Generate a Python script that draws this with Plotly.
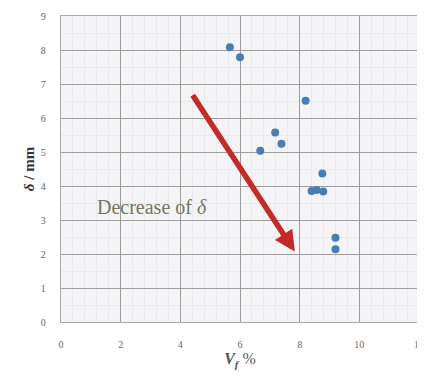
import plotly.graph_objects as go

vf = [5.66, 6.0, 8.2, 7.18, 7.39, 6.68, 8.76, 8.4, 8.57, 8.79, 9.2, 9.2]
delta = [8.08, 7.79, 6.51, 5.57, 5.24, 5.04, 4.37, 3.85, 3.88, 3.84, 2.48, 2.14]

x_ticks = [0, 2, 4, 6, 8, 10, 12]
y_ticks = [0, 1, 2, 3, 4, 5, 6, 7, 8, 9]

arrow_start = (4.38, 6.71)
arrow_end = (7.84, 2.07)
label_pos = (3.05, 3.38)
label_text = "Decrease of <i>δ</i>"

fig = go.Figure()
fig.add_trace(go.Scatter(
    x=vf, y=delta, mode="markers",
    marker=dict(color="#4a7db4", size=8, line=dict(width=0)),
    showlegend=False, hoverinfo="skip"))

fig.add_annotation(
    x=arrow_end[0], y=arrow_end[1], ax=arrow_start[0], ay=arrow_start[1],
    xref="x", yref="y", axref="x", ayref="y", text="",
    showarrow=True, arrowhead=2, arrowsize=0.75, arrowwidth=5.5, arrowcolor="#c42a28")

fig.add_annotation(
    x=label_pos[0], y=label_pos[1], xref="x", yref="y", text=label_text,
    showarrow=False, font=dict(family="Liberation Serif, DejaVu Serif, serif", size=20, color="#76765e"))

tickfont = dict(family="Liberation Serif, DejaVu Serif, serif", size=10, color="#666666")
fig.update_xaxes(
    range=[0, 12], tickvals=x_ticks, ticktext=[str(v) for v in x_ticks],
    showgrid=True, gridcolor="#9c9c9c", gridwidth=1.4,
    minor=dict(dtick=0.4, showgrid=True, gridcolor="#eaeaee", gridwidth=1),
    showline=True, linecolor="#aaaaaa", linewidth=1.4, mirror=True,
    zeroline=False, tickfont=tickfont, ticks="", ticklabelstandoff=13,
    ticklabeloverflow="allow", automargin=False,
    title=dict(text="<b><i>V<sub>f</sub></i></b> %", standoff=0,
               font=dict(family="Liberation Serif, DejaVu Serif, serif", size=16, color="#555555")))
fig.update_yaxes(
    range=[0, 9], tickvals=y_ticks, ticktext=[str(v) for v in y_ticks],
    showgrid=True, gridcolor="#9c9c9c", gridwidth=1.4,
    minor=dict(dtick=0.5, showgrid=True, gridcolor="#eaeaee", gridwidth=1),
    showline=True, linecolor="#aaaaaa", linewidth=1.4, mirror=True,
    zeroline=False, tickfont=tickfont, ticks="", ticklabelstandoff=12,
    ticklabeloverflow="allow", automargin=False,
    title=dict(text="<b><i>δ</i> / mm</b>", standoff=2,
               font=dict(family="Liberation Serif, DejaVu Serif, serif", size=15, color="#333333")))

fig.update_layout(
    width=425, height=377,
    margin=dict(l=53, r=14, t=8, b=63),
    paper_bgcolor="white", plot_bgcolor="#f4f4f6")

fig.write_html("out.html")
